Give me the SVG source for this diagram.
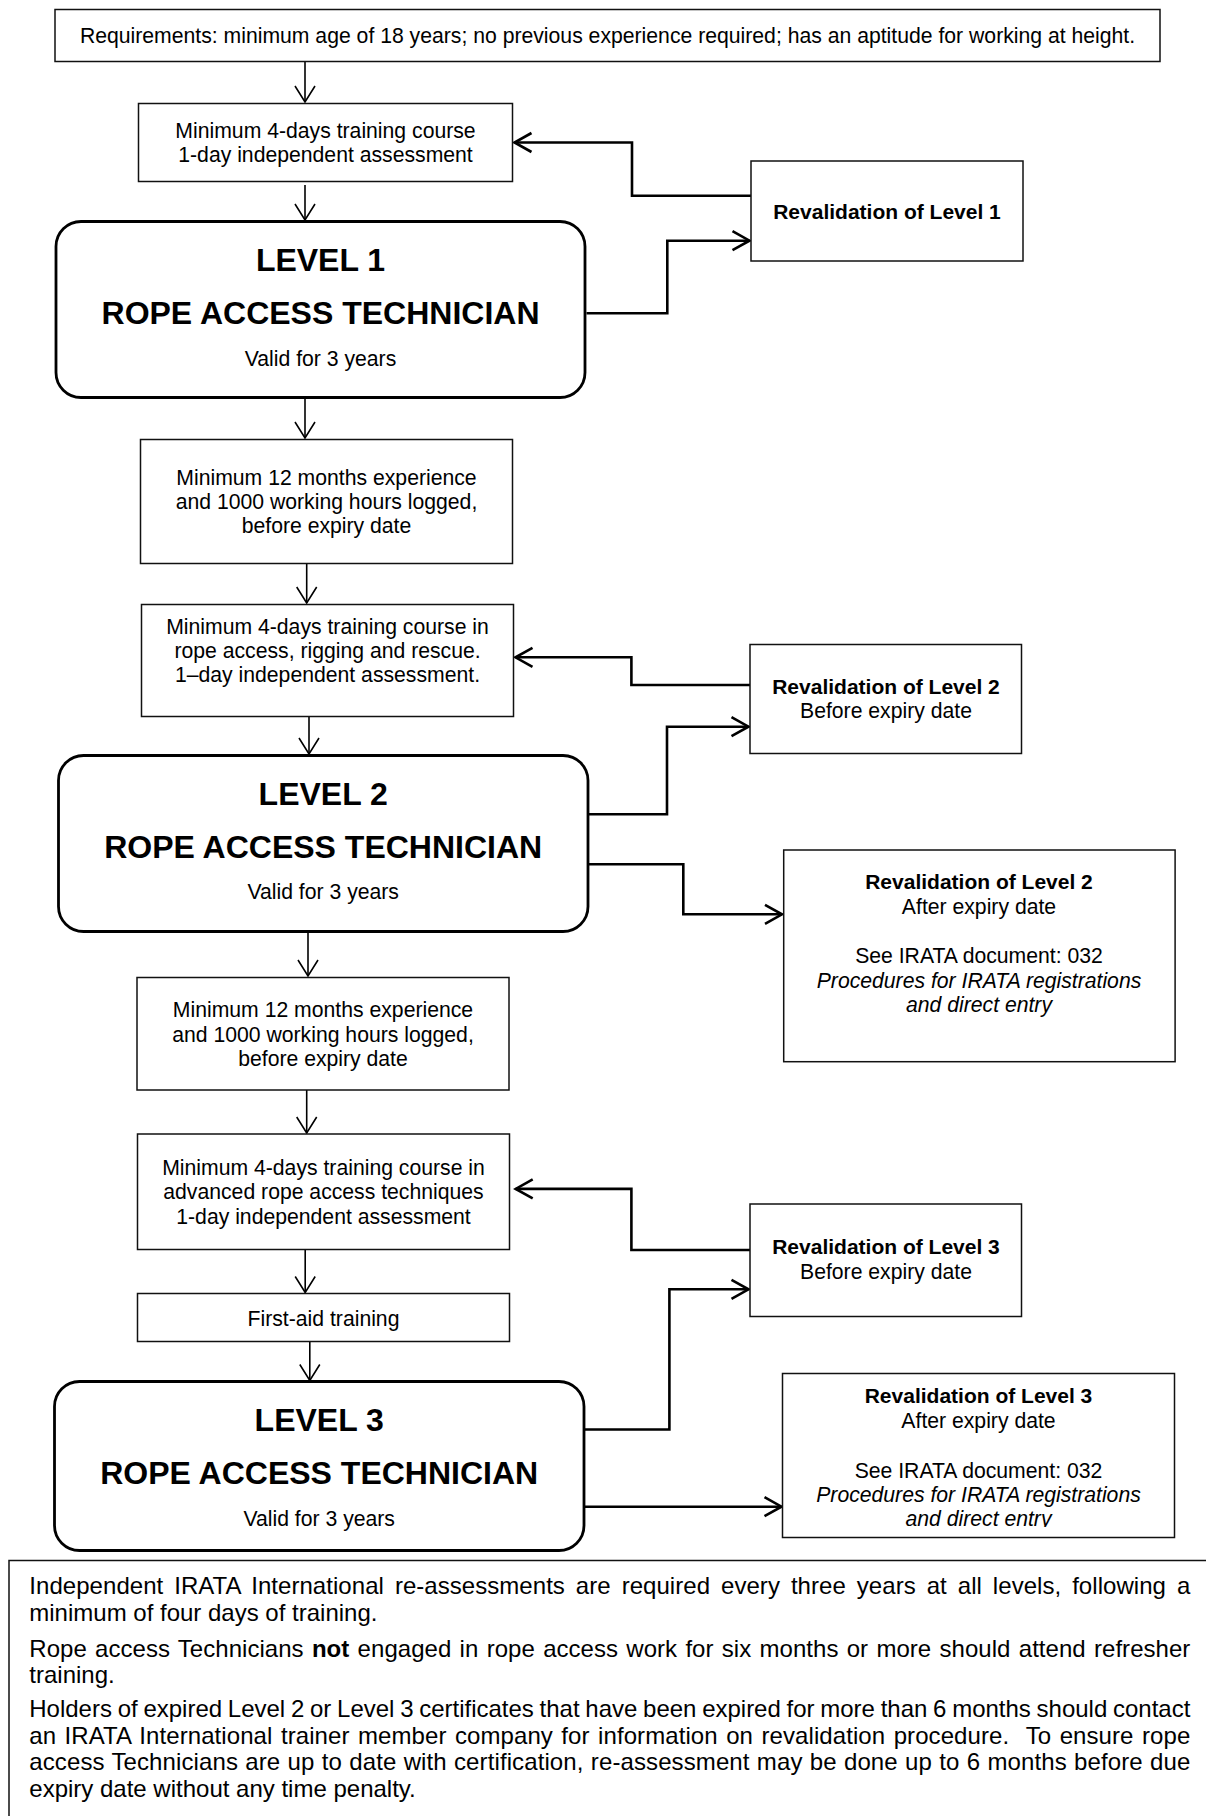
<svg xmlns="http://www.w3.org/2000/svg" width="1206" height="1816" viewBox="0 0 1206 1816">
<style>
text{font-family:"Liberation Sans",Arial,sans-serif;fill:#000}
.t{font-size:21.2px;text-anchor:middle}
.b{font-size:21px;font-weight:bold;text-anchor:middle}
.h{font-size:32px;font-weight:bold;text-anchor:middle}
.i{font-style:italic}
.bx{fill:#fff;stroke:#111;stroke-width:1.5}
.lv{fill:#fff;stroke:#000;stroke-width:2.8}
.ft{font-size:24px}
.c1{fill:none;stroke:#000;stroke-width:1.6}
.c2{fill:none;stroke:#000;stroke-width:2.6}
</style>
<defs>
<marker id="ah" markerUnits="userSpaceOnUse" viewBox="-20 -12 22 24" markerWidth="22" markerHeight="24" refX="0" refY="0" orient="auto" overflow="visible">
<path d="M-16,-10 L0,0 L-16,10" fill="none" stroke="#000" stroke-width="1.6"/>
</marker>
<marker id="ahT" markerUnits="userSpaceOnUse" viewBox="-20 -12 22 24" markerWidth="22" markerHeight="24" refX="0" refY="0" orient="auto" overflow="visible">
<path d="M-17,-9.5 L0,0 L-17,9.5" fill="none" stroke="#000" stroke-width="2.6"/>
</marker>
<clipPath id="clipL3after"><rect x="782" y="1373" width="394" height="154"/></clipPath>
</defs>

<g id="connectors">
<path class="c1" d="M305,61.5 V102" marker-end="url(#ah)"/>
<path class="c1" d="M305,185 V220" marker-end="url(#ah)"/>
<path class="c2" d="M586.5,313.3 H667.3 V240.7 H749.5" marker-end="url(#ahT)"/>
<path class="c2" d="M751,195.7 H632 V142.5 H514.5" marker-end="url(#ahT)"/>
<path class="c1" d="M305,398 V438" marker-end="url(#ah)"/>
<path class="c1" d="M306.7,563.5 V603" marker-end="url(#ah)"/>
<path class="c2" d="M750,685 H631.4 V657.3 H515.5" marker-end="url(#ahT)"/>
<path class="c1" d="M309,716.5 V754" marker-end="url(#ah)"/>
<path class="c2" d="M588,814.3 H667 V726.7 H748.5" marker-end="url(#ahT)"/>
<path class="c2" d="M588,864.3 H683.3 V914.3 H782" marker-end="url(#ahT)"/>
<path class="c1" d="M308,931.5 V976" marker-end="url(#ah)"/>
<path class="c1" d="M306.7,1090 V1133" marker-end="url(#ah)"/>
<path class="c2" d="M750,1250 H631.4 V1188.9 H515.7" marker-end="url(#ahT)"/>
<path class="c1" d="M305.2,1249.7 V1292.5" marker-end="url(#ah)"/>
<path class="c1" d="M309.8,1341.6 V1380.5" marker-end="url(#ah)"/>
<path class="c2" d="M584.5,1429.5 H669.4 V1289.3 H748.5" marker-end="url(#ahT)"/>
<path class="c2" d="M584.5,1506.7 H781.5" marker-end="url(#ahT)"/>
</g>

<g id="requirements">
<rect class="bx" x="55" y="9.5" width="1105" height="52"/>
<text class="t" x="607.5" y="42.8">Requirements: minimum age of 18 years; no previous experience required; has an aptitude for working at height.</text>
</g>

<g id="training-l1">
<rect class="bx" x="138.5" y="103.5" width="374" height="78"/>
<text class="t" x="325.5" y="138.3">Minimum 4-days training course</text>
<text class="t" x="325.5" y="162.3">1-day independent assessment</text>
</g>

<g id="reval-l1">
<rect class="bx" x="751" y="161" width="272" height="100"/>
<text class="b" x="887" y="219">Revalidation of Level 1</text>
</g>

<g id="level1">
<rect class="lv" x="56" y="221.5" width="529" height="176" rx="25" ry="25"/>
<text class="h" x="320.5" y="270.7">LEVEL 1</text>
<text class="h" x="320.5" y="324">ROPE ACCESS TECHNICIAN</text>
<text class="t" x="320.5" y="365.7">Valid for 3 years</text>
</g>

<g id="experience-l2">
<rect class="bx" x="140.5" y="439.5" width="372" height="124"/>
<text class="t" x="326.5" y="484.6">Minimum 12 months experience</text>
<text class="t" x="326.5" y="508.9">and 1000 working hours logged,</text>
<text class="t" x="326.5" y="532.9">before expiry date</text>
</g>

<g id="training-l2">
<rect class="bx" x="141.5" y="604.5" width="372" height="112"/>
<text class="t" x="327.5" y="634">Minimum 4-days training course in</text>
<text class="t" x="327.5" y="658">rope access, rigging and rescue.</text>
<text class="t" x="327.5" y="682">1–day independent assessment.</text>
</g>

<g id="reval-l2-before">
<rect class="bx" x="750" y="644.5" width="271.5" height="109"/>
<text class="b" x="886" y="694">Revalidation of Level 2</text>
<text class="t" x="886" y="718.3">Before expiry date</text>
</g>

<g id="level2">
<rect class="lv" x="58.5" y="755.5" width="529.5" height="176" rx="25" ry="25"/>
<text class="h" x="323.2" y="804.6">LEVEL 2</text>
<text class="h" x="323.2" y="858.2">ROPE ACCESS TECHNICIAN</text>
<text class="t" x="323.2" y="899.3">Valid for 3 years</text>
</g>

<g id="reval-l2-after">
<rect class="bx" x="783.7" y="850" width="391.4" height="211.7"/>
<text class="b" x="979" y="889.3">Revalidation of Level 2</text>
<text class="t" x="979" y="914.3">After expiry date</text>
<text class="t" x="979" y="963.3">See IRATA document: 032</text>
<text class="t i" x="979" y="987.7">Procedures for IRATA registrations</text>
<text class="t i" x="979" y="1011.7">and direct entry</text>
</g>

<g id="experience-l3">
<rect class="bx" x="137" y="977.5" width="372" height="112.5"/>
<text class="t" x="323" y="1017.4">Minimum 12 months experience</text>
<text class="t" x="323" y="1041.5">and 1000 working hours logged,</text>
<text class="t" x="323" y="1066">before expiry date</text>
</g>

<g id="training-l3">
<rect class="bx" x="137.5" y="1134" width="372" height="115.5"/>
<text class="t" x="323.5" y="1175">Minimum 4-days training course in</text>
<text class="t" x="323.5" y="1199.2">advanced rope access techniques</text>
<text class="t" x="323.5" y="1224">1-day independent assessment</text>
</g>

<g id="reval-l3-before">
<rect class="bx" x="750" y="1204" width="271.5" height="112.5"/>
<text class="b" x="886" y="1254">Revalidation of Level 3</text>
<text class="t" x="886" y="1279.3">Before expiry date</text>
</g>

<g id="first-aid">
<rect class="bx" x="137.5" y="1293.5" width="372" height="48"/>
<text class="t" x="323.5" y="1325.5">First-aid training</text>
</g>

<g id="level3">
<rect class="lv" x="54.5" y="1381.5" width="529.5" height="169" rx="25" ry="25"/>
<text class="h" x="319.2" y="1430.7">LEVEL 3</text>
<text class="h" x="319.2" y="1483.5">ROPE ACCESS TECHNICIAN</text>
<text class="t" x="319.2" y="1525.6">Valid for 3 years</text>
</g>

<g id="reval-l3-after">
<rect class="bx" x="782.5" y="1373.5" width="392" height="164"/>
<g clip-path="url(#clipL3after)">
<text class="b" x="978.5" y="1402.7">Revalidation of Level 3</text>
<text class="t" x="978.5" y="1427.7">After expiry date</text>
<text class="t" x="978.5" y="1477.7">See IRATA document: 032</text>
<text class="t i" x="978.5" y="1501.7">Procedures for IRATA registrations</text>
<text class="t i" x="978.5" y="1525.7">and direct entry</text>
</g>
</g>

<g id="notes">
<rect class="bx" x="9" y="1560.5" width="1210" height="300"/>
<text class="ft" x="29.3" y="1594" word-spacing="4.25" textLength="1161" lengthAdjust="spacing">Independent IRATA International re-assessments are required every three years at all levels, following a</text>
<text class="ft" x="29.3" y="1620.5">minimum of four days of training.</text>
<text class="ft" x="29.3" y="1656.5" word-spacing="1.6" textLength="1161" lengthAdjust="spacing">Rope access Technicians <tspan font-weight="bold">not</tspan> engaged in rope access work for six months or more should attend refresher</text>
<text class="ft" x="29.3" y="1683">training.</text>
<text class="ft" x="29.3" y="1717" word-spacing="-0.9" textLength="1161" lengthAdjust="spacing">Holders of expired Level 2 or Level 3 certificates that have been expired for more than 6 months should contact</text>
<text class="ft" x="29.3" y="1743.5" word-spacing="1.7" textLength="1161" lengthAdjust="spacing">an IRATA International trainer member company for information on revalidation procedure.&#160; To ensure rope</text>
<text class="ft" x="29.3" y="1770" word-spacing="0.5" textLength="1161" lengthAdjust="spacing">access Technicians are up to date with certification, re-assessment may be done up to 6 months before due</text>
<text class="ft" x="29.3" y="1796.5">expiry date without any time penalty.</text>
</g>
</svg>
